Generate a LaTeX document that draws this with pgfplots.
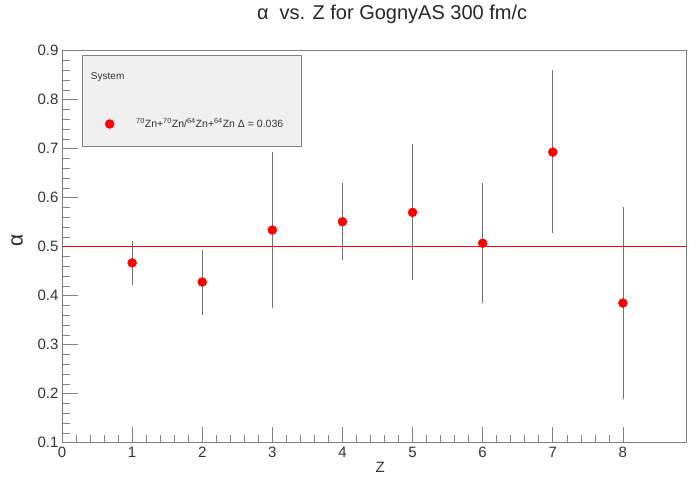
\documentclass[border=0pt]{standalone}
\usepackage{pgfplots}
\usepackage{pgfplotstable}
\pgfplotsset{compat=1.18}
\usepackage{fontspec}
\setmainfont{Liberation Sans}
\definecolor{axgray}{gray}{0.5}
\definecolor{txt}{gray}{0.2}
\definecolor{legfill}{gray}{0.94}
\definecolor{errgray}{gray}{0.45}
\pgfplotstableread{
z a ep em
1 0.467 0.041 0.042
2 0.428 0.063 0.065
3 0.534 0.157 0.156
4 0.551 0.076 0.075
5 0.570 0.136 0.136
6 0.507 0.120 0.120
7 0.693 0.165 0.163
8 0.385 0.193 0.193
}\datatable
\begin{document}
\begin{tikzpicture}
\begin{axis}[
  at={(62pt,38.3pt)}, anchor=south west,
  scale only axis, width=624pt, height=392pt,
  xmin=0, xmax=8.9, ymin=0.1, ymax=0.9,
  xtick={0,1,2,3,4,5,6,7,8},
  ytick={0.1,0.2,0.3,0.4,0.5,0.6,0.7,0.8,0.9},
  yticklabels={0.1,0.2,0.3,0.4,0.5,0.6,0.7,0.8,0.9},
  minor tick num=4,
  tick pos=left, tick align=inside,
  major tick length=16pt, minor tick length=8pt,
  axis line style={axgray, line width=0.6pt},
  tick style={axgray, line width=0.6pt},
  /pgf/number format/assume math mode=true,
  tick label style={font=\fontsize{15}{18}\selectfont, text=txt},
  xticklabel style={yshift=-1pt},
  title={\fontsize{20}{24}\selectfont α\ \ vs. Z for GognyAS 300 fm/c},
  title style={at={(0.529,1.078)}, anchor=center, text=black!85},
  ylabel={\fontsize{21}{24}\selectfont α},
  ylabel style={at={(-0.072,0.517)}, anchor=center, text=black!85},
  xlabel={\fontsize{15}{18}\selectfont Z},
  xlabel style={at={(0.51,-0.062)}, anchor=center, text=txt},
  legend style={at={(0.032,0.989)}, anchor=north west, fill=legfill, draw=axgray,
    font=\fontsize{10.5}{12}\selectfont, text=txt, row sep=34pt,
    inner xsep=6pt, inner ysep=15pt},
  legend cell align=left,
  legend image code/.code={\path[draw=none] (0pt,0pt) -- (42pt,0pt);
    \draw[red, mark=*, mark size=4.5pt, mark options={fill=red, draw=red}] plot coordinates {(21.5pt,0pt)};},
]
\addlegendimage{empty legend}
\addlegendentry{\hspace*{-46pt}{\fontsize{10}{12}\selectfont System}}
\addplot[only marks, mark=*, mark size=4.5pt, color=red,
  mark options={fill=red, draw=red},
  error bars/.cd, y dir=both, y explicit,
  error bar style={errgray, line width=0.6pt},
  error mark options={errgray, mark size=1.3pt, line width=0.6pt}]
  table[x=z, y=a, y error plus=ep, y error minus=em]{\datatable};
\addlegendentry{\hspace*{4pt}\textsuperscript{70}Zn+\textsuperscript{70}Zn/\textsuperscript{64}Zn+\textsuperscript{64}Zn Δ = 0.036\hspace*{10pt}}
\addplot[red, line width=0.8pt, forget plot] coordinates {(0,0.5) (8.9,0.5)};
\end{axis}
\pgfresetboundingbox
\useasboundingbox (0,0) rectangle (689pt,481pt);
\end{tikzpicture}
\end{document}
